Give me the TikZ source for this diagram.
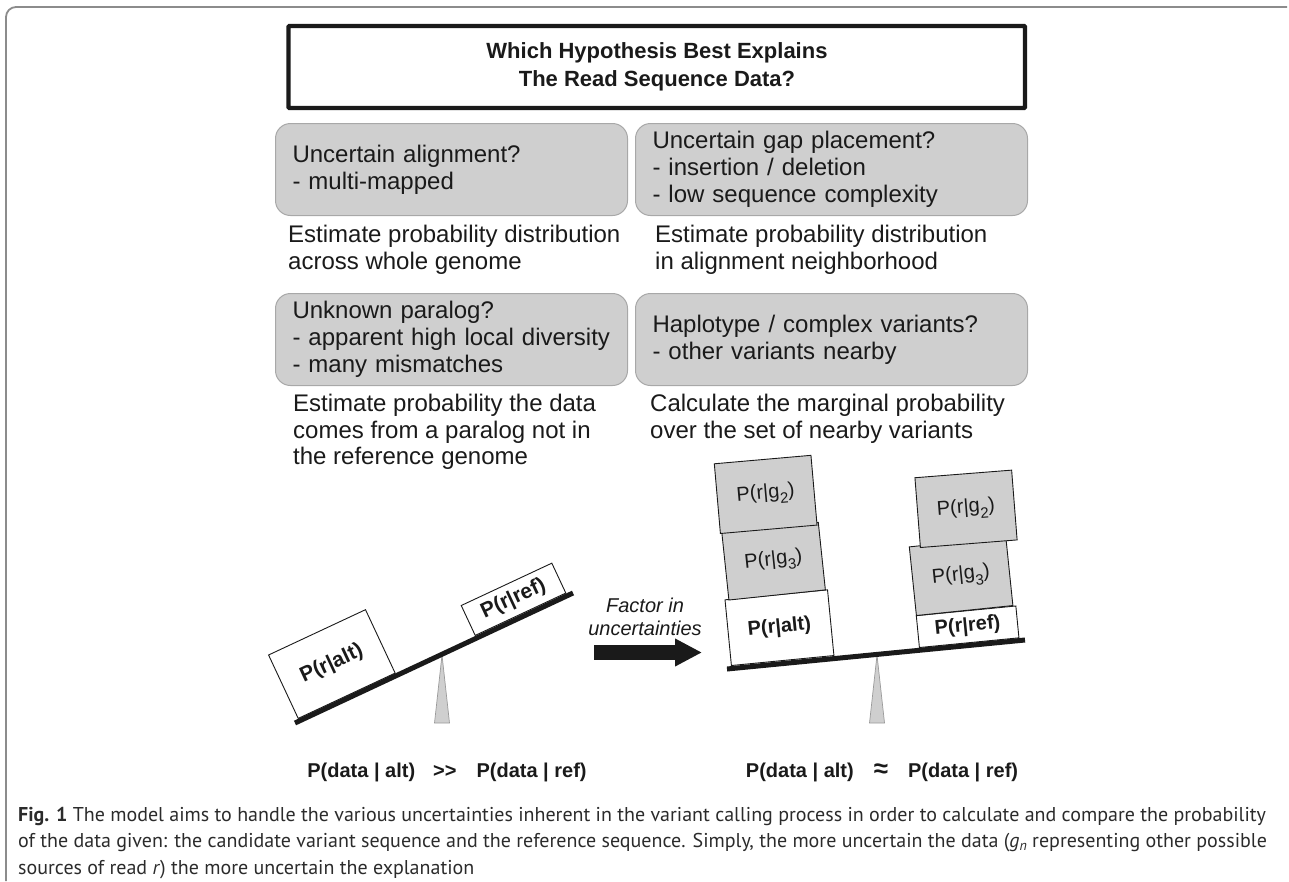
\documentclass[tikz,border=0pt]{standalone}
\usepackage{fontspec}
\setmainfont{Liberation Sans}
\newfontfamily\captionface{PT Sans}
\usetikzlibrary{arrows.meta,positioning}
\definecolor{ink}{HTML}{1A1A1A}
\definecolor{boxgray}{HTML}{CFCFCF}
\definecolor{boxedge}{HTML}{A8A8A8}
\definecolor{framegray}{HTML}{8C8C8C}
\definecolor{pivotedge}{HTML}{9A9A9A}
\definecolor{capink}{HTML}{2B2B2B}
\newcommand{\sub}[1]{\raisebox{-0.6ex}{\fontsize{15}{15}\selectfont #1}}
\newcommand{\capsize}{\captionface\fontsize{20}{26.5}\selectfont}

\begin{document}
\begin{tikzpicture}[x=1pt, y=-1pt,
  issue/.style={draw=boxedge, line width=1pt, fill=boxgray, rounded corners=15pt, text=ink,
    font=\fontsize{24}{27}\selectfont, align=left, inner sep=0pt, anchor=north west},
  remedy/.style={text=ink, font=\fontsize{24}{26.5}\selectfont, align=left, inner sep=0pt, anchor=west},
  weight/.style={draw=ink, line width=0.9pt, fill=white, inner sep=0pt, anchor=south west, text=ink,
    font=\bfseries\fontsize{20}{24}\selectfont},
  gweight/.style={weight, fill=boxgray, font=\fontsize{20}{24}\selectfont},
  beam/.style={draw=ink, line width=5pt},
  pivot/.style={fill=boxgray, draw=pivotedge, line width=0.7pt},
  verdict/.style={text=ink, inner sep=0pt, font=\bfseries\fontsize{20}{24}\selectfont},
  bigarrow/.style={draw=ink, line width=15pt, -{Triangle[length=27pt,width=26pt]}}]

\useasboundingbox (0,0) rectangle (1289,881);

% frame and title
\draw[framegray, line width=1.8pt, rounded corners=10pt] (6,881) -- (6,7) -- (1287,7);
\draw[ink, line width=4.3pt, rounded corners=1pt] (288.5,26) rectangle (1025,108);
\node[text=ink, align=center, font=\bfseries\fontsize{22}{28}\selectfont] (title) at (657,67)
  {Which Hypothesis Best Explains\\The Read Sequence Data?};

% sources of uncertainty
\node[issue, minimum width=352pt, minimum height=92pt, text width=318pt] (align) at (275,123)
  {Uncertain alignment?\\- multi-mapped};
\node[issue, minimum width=392pt, minimum height=92pt, text width=358pt] (gap) at (635,123)
  {Uncertain gap placement?\\- insertion / deletion\\- low sequence complexity};
\node[issue, minimum width=352pt, minimum height=92pt, text width=318pt] (paralog) at (275,293)
  {Unknown paralog?\\- apparent high local diversity\\- many mismatches};
\node[issue, minimum width=392pt, minimum height=92pt, text width=358pt] (haplo) at (635,293)
  {Haplotype / complex variants?\\- other variants nearby};

\node[remedy] (alignfix) at (288,250) {Estimate probability distribution\\across whole genome};
\node[remedy] (gapfix) at (655,250) {Estimate probability distribution\\in alignment neighborhood};
\node[remedy] (paralogfix) at (293,432) {Estimate probability the data\\comes from a paralog not in\\the reference genome};
\node[remedy] (haplofix) at (650,419) {Calculate the marginal probability\\over the set of nearby variants};

% left seesaw
\coordinate (lbeamA) at (295,723);
\coordinate (lbeamB) at (573,593);
\coordinate (lpivot) at (442,655);
\draw[pivot] (lpivot) -- ++(-7.5,68) -- ++(15,0) -- cycle;
\node[weight, rotate=25.06, minimum width=107pt, minimum height=70pt, font=\bfseries\fontsize{21}{24}\selectfont]
  (alt1) at (298,719) {P(r|alt)};
\node[weight, rotate=25.06, minimum width=100pt, minimum height=33pt, font=\bfseries\fontsize{21}{24}\selectfont]
  (ref1) at (475,636) {P(r|ref)};
\draw[beam] (lbeamA) -- (lbeamB);

% factor in
\node[text=ink, align=center, font=\itshape\fontsize{20}{23}\selectfont] (factor) at (645,617)
  {Factor in\\uncertainties};
\coordinate (arrA) at (594,652.5);
\coordinate (arrB) at (702,652.5);
\draw[bigarrow] (arrA) -- (arrB);

% right seesaw
\coordinate (rbeamA) at (727,669);
\coordinate (rbeamB) at (1025,640);
\coordinate (rpivot) at (877,655);
\draw[pivot] (rpivot) -- ++(-7.5,68) -- ++(15,0) -- cycle;
\node[weight, rotate=5.56, minimum width=103pt, minimum height=66pt] (alt2) at (731,666) {P(r|alt)};
\node[gweight, rotate=6, minimum width=97pt, minimum height=68pt] (g3a) at (728.5,600.5) {P(r|g\sub{3})};
\node[gweight, rotate=5, minimum width=97pt, minimum height=70pt] (g2a) at (720,534) {P(r|g\sub{2})};
\node[weight, rotate=5.56, minimum width=100pt, minimum height=32pt] (ref2) at (919,648) {P(r|ref)};
\node[gweight, rotate=5.9, minimum width=97pt, minimum height=69pt] (g3b) at (916,616) {P(r|g\sub{3})};
\node[gweight, rotate=4.5, minimum width=97pt, minimum height=70pt] (g2b) at (920,548) {P(r|g\sub{2})};
\draw[beam] (rbeamA) -- (rbeamB);

% outcomes
\node[verdict] (much) at (447,772) {P(data | alt)\hspace{18pt}{>}{>}\hspace{20pt}P(data | ref)};
\node[verdict] (approx) at (882,772) {P(data | alt)\hspace{20pt}{\fontsize{26}{24}\selectfont ≈}\hspace{20pt}P(data | ref)};

% caption
\node[text=capink, align=left, inner sep=0pt, anchor=west, font=\capsize] (caption) at (18,843)
  {\capsize\textbf{Fig. 1} The model aims to handle the various uncertainties inherent in the variant calling process in order to calculate and compare the probability\\
   \capsize of the data given: the candidate variant sequence and the reference sequence. Simply, the more uncertain the data (\textit{g}{\fontsize{14}{14}\selectfont\raisebox{-0.4ex}{\textit{n}}} representing other possible\\
   \capsize sources of read \textit{r}) the more uncertain the explanation};
\end{tikzpicture}
\end{document}
